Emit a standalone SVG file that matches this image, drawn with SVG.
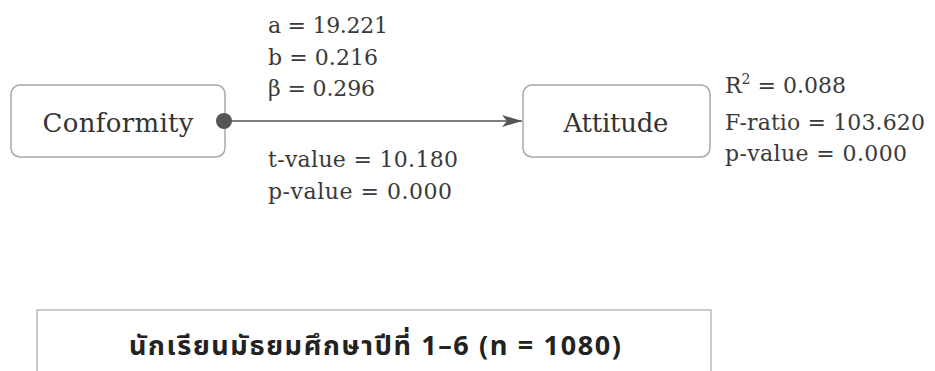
<svg xmlns="http://www.w3.org/2000/svg" width="935" height="371" viewBox="0 0 935 371">
<defs>
<style>
.box{fill:#fff;stroke:#a8a8a8;stroke-width:1.5}
.lbl{font-family:"DejaVu Serif","Liberation Serif",serif;font-size:26px;fill:#333;text-anchor:middle}
.ann{font-family:"DejaVu Serif","Liberation Serif",serif;font-size:22px;fill:#3a3a3a}
.thai{font-family:"Noto Sans Thai","Noto Sans Thai UI","Loma","Garuda","Noto Sans",sans-serif;font-size:27px;font-weight:bold;fill:#222;text-anchor:middle}
.conn{stroke:#555;stroke-width:1.5;fill:none}
</style>
<marker id="arr" viewBox="0 0 20 12" refX="20" refY="6" markerWidth="20" markerHeight="12" markerUnits="userSpaceOnUse" orient="auto">
<path d="M0,0 L20,6 L0,12 L5,6 Z" fill="#555"/>
</marker>
</defs>
<rect width="935" height="371" fill="#fff"/>
<g id="conformity">
<rect class="box" x="11" y="85" width="214" height="72" rx="9"/>
<text class="lbl" x="118" y="132" textLength="151">Conformity</text>
</g>
<g id="attitude">
<rect class="box" x="523" y="85" width="187" height="72" rx="9"/>
<text class="lbl" x="616" y="132" textLength="105">Attitude</text>
</g>
<g id="connectors">
<line class="conn" x1="224" y1="121" x2="522" y2="121" marker-end="url(#arr)"/>
<circle cx="224" cy="121" r="8" fill="#555"/>
</g>
<g id="path-stats">
<text class="ann" x="268" y="33" textLength="120">a = 19.221</text>
<text class="ann" x="268" y="65" textLength="110">b = 0.216</text>
<text class="ann" x="268" y="96" textLength="107">β = 0.296</text>
<text class="ann" x="268" y="167" textLength="190">t-value = 10.180</text>
<text class="ann" x="268" y="199" textLength="184">p-value = 0.000</text>
</g>
<g id="model-stats">
<text class="ann" x="725" y="93">R<tspan font-size="14" dy="-9">2</tspan><tspan dy="9"> = 0.088</tspan></text>
<text class="ann" x="725" y="130" textLength="200">F-ratio = 103.620</text>
<text class="ann" x="725" y="161" textLength="182">p-value = 0.000</text>
</g>
<g id="sample">
<rect x="37" y="310" width="674" height="90" fill="none" stroke="#bbb" stroke-width="1.5"/>
<text class="thai" x="375" y="355" textLength="492">นักเรียนมัธยมศึกษาปีที่ 1–6 (n = 1080)</text>
</g>
</svg>
